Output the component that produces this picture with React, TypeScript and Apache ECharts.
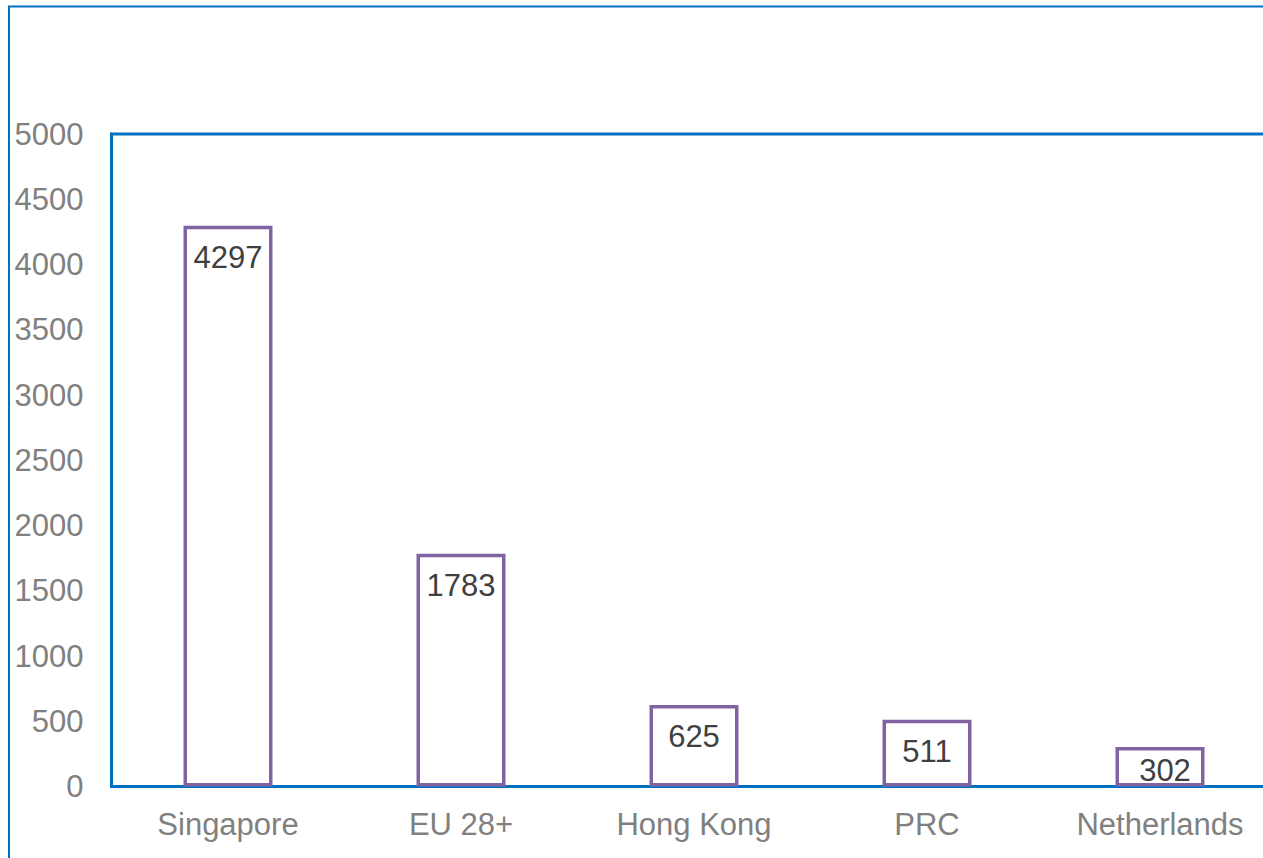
import React, { useEffect, useRef } from "react";
import * as echarts from "echarts";

const categories = ["Singapore", "EU 28+", "Hong Kong", "PRC", "Netherlands"];
const values = [4297, 1783, 625, 511, 302];
const labelDistances = [16, 16, 16, 16, 8];
const labelShiftX = [0, 0, 0, 0, 5];

export default function App() {
  const ref = useRef<HTMLDivElement>(null);
  useEffect(() => {
    if (!ref.current) return;
    const chart = echarts.init(ref.current, undefined, { renderer: "svg" });
    const font = "'Liberation Sans', Arial, sans-serif";
    chart.setOption({
      animation: false,
      graphic: [
        {
          type: "rect",
          shape: { x: 9, y: 6.5, width: 2000, height: 2000 },
          style: { fill: "none", stroke: "#0070C0", lineWidth: 2 },
          silent: true,
        },
      ],
      grid: {
        show: true,
        left: 111.5,
        top: 134,
        width: 1165,
        height: 652.5,
        borderColor: "#0070C0",
        borderWidth: 3,
        backgroundColor: "transparent",
      },
      xAxis: {
        type: "category",
        data: categories,
        axisLine: { show: true, lineStyle: { color: "#0070C0", width: 3 } },
        axisTick: { show: false },
        axisLabel: { color: "#808080", fontSize: 31, fontFamily: font, margin: 22 },
      },
      yAxis: {
        type: "value",
        min: 0,
        max: 5000,
        interval: 500,
        splitLine: { show: false },
        axisLine: { show: true, lineStyle: { color: "#0070C0", width: 3 } },
        axisTick: { show: false },
        axisLabel: {
          color: "#808080",
          fontSize: 31,
          fontFamily: font,
          margin: 28,
          formatter: (v: number) => String(v),
        },
      },
      series: [
        {
          type: "bar",
          barWidth: 89,
          data: values.map((v, i) => ({
            value: v,
            label: { distance: labelDistances[i], offset: [labelShiftX[i], 0] },
          })),
          itemStyle: { color: "#ffffff", borderColor: "#8064A2", borderWidth: 3.5 },
          label: {
            show: true,
            position: "insideTop",
            color: "#404040",
            fontSize: 31,
            fontFamily: font,
          },
        },
      ],
    });
    return () => chart.dispose();
  }, []);
  return (
    <div style={{ position: "absolute", left: 0, top: 0, width: 1263, height: 858, overflow: "hidden" }}>
      <div ref={ref} style={{ width: 1310, height: 880 }} />
    </div>
  );
}
